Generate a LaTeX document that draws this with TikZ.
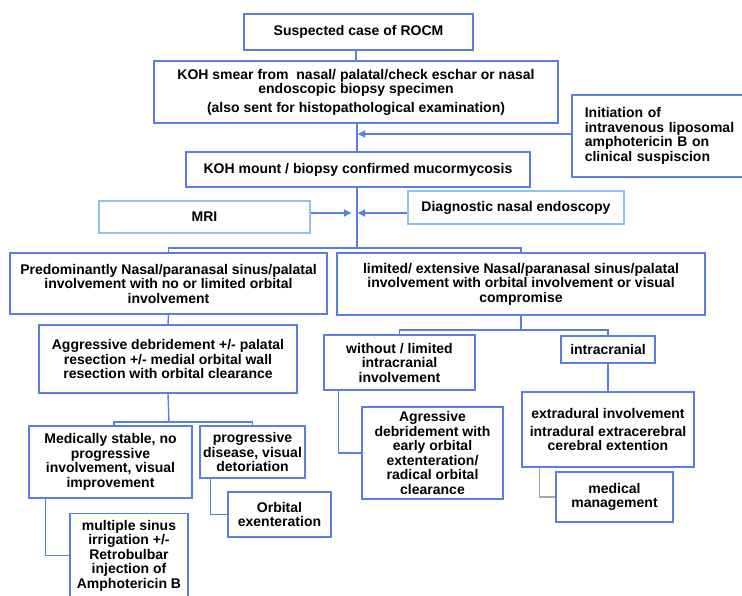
\documentclass[tikz,border=0pt]{standalone}
\usepackage{fontspec}
\setmainfont{Liberation Sans}
\usetikzlibrary{arrows.meta}
\definecolor{boxblue}{HTML}{5A7FE0}
\definecolor{lightblue}{HTML}{8EC2F0}
\definecolor{linegray}{HTML}{A8A8A8}

\begin{document}
\begin{tikzpicture}[
    x=1pt, y=-1pt,
    box/.style={rectangle, draw=boxblue, line width=1.6pt, fill=white, align=center, inner sep=0pt, font=\bfseries\fontsize{14}{14.5}\selectfont},
    softbox/.style={box, draw=lightblue},
    link/.style={draw=boxblue, line width=1.4pt},
    arrow/.style={link, -{Latex[length=8pt,width=8pt]}}
]
    \useasboundingbox (0,0) rectangle (742,595);

    % Nodes
    \node[box, minimum width=229, minimum height=36] (rocm) at (358.5,32) {Suspected case of ROCM};
    \node[box, minimum width=404, minimum height=62] (smear) at (356,92) {KOH smear from\ \ nasal/ palatal/check eschar or nasal\\ endoscopic biopsy specimen\\[4pt] (also sent for histopathological examination)};
    \node[box, anchor=west, align=left, inner xsep=13pt, text width=165pt, minimum height=82] (init) at (571,136) {Initiation of\\ intravenous liposomal\\ amphotericin B on\\ clinical suspiscion};
    \node[box, minimum width=344, minimum height=35] (mount) at (358,169.5) {KOH mount / biopsy confirmed mucormycosis};
    \node[softbox, minimum width=211, minimum height=32] (mri) at (204.5,217) {MRI};
    \node[softbox, minimum width=216, minimum height=33] (endo) at (516,207.5) {Diagnostic nasal endoscopy};

    \node[box, minimum width=317, minimum height=61] (pred) at (168.5,283.5) {Predominantly Nasal/paranasal sinus/palatal\\ involvement with no or limited orbital\\ involvement};
    \node[box, minimum width=368, minimum height=62] (ext) at (521,284) {limited/ extensive Nasal/paranasal sinus/palatal\\ involvement with orbital involvement or visual\\ compromise};

    \node[box, minimum width=258, minimum height=68] (aggr) at (168,359) {Aggressive debridement +/- palatal\\ resection +/- medial orbital wall\\ resection with orbital clearance};
    \node[box, minimum width=151, minimum height=55] (nolim) at (399.5,362.5) {without / limited\\ intracranial\\ involvement};
    \node[box, minimum width=94, minimum height=27] (intra) at (608,349.5) {intracranial};

    \node[box, minimum width=163, minimum height=72] (stable) at (110.5,462) {Medically stable, no\\ progressive\\ involvement, visual\\ improvement};
    \node[box, minimum width=105, minimum height=52] (prog) at (252.5,452) {progressive\\ disease, visual\\ detoriation};
    \node[box, minimum width=118, minimum height=84] (sinus) at (129,555.5) {multiple sinus\\ irrigation +/-\\ Retrobulbar\\ injection of\\ Amphotericin B};
    \node[box, minimum width=103, minimum height=45] (orbital) at (279.5,514.5) {Orbital\\ exenteration};

    \node[box, minimum width=141, minimum height=92] (aggr2) at (432.5,453) {Agressive\\ debridement with\\ early orbital\\ extenteration/\\ radical orbital\\ clearance};
    \node[box, minimum width=172, minimum height=75] (extra) at (608,429.5) {extradural involvement\\[3pt] intradural extracerebral\\ cerebral extention};
    \node[box, minimum width=117, minimum height=50] (medical) at (614.5,497) {medical\\ management};

    % Junctions
    \coordinate (drug) at (357,134);
    \coordinate (scan) at (357,213);
    \coordinate (split) at (357,248);
    \coordinate (right) at (521,330);
    \coordinate (left) at (169,422);

    % Arrows
    \draw[link] (rocm.south -| smear.north) -- (smear.north);
    \draw[link] (smear.south -| drug) -- (mount.north -| drug);
    \draw[arrow] (init.west |- drug) -- (drug);
    \draw[link] (mount.south -| split) -- (split);
    \draw[arrow] (mri.east |- scan) -- ([xshift=-5pt]scan);
    \draw[arrow] (endo.west |- scan) -- (scan);
    \draw[link] (pred.north) |- (split) -| (ext.north);

    \draw[link] (pred.south) -- (aggr.north);
    \draw[link] (ext.south) -- (right);
    \draw[link] (nolim.north) |- (right) -| (intra.north);
    \draw[link] (aggr.south) -- (left);
    \draw[link] ([xshift=3.5pt]stable.north) |- (left) -| (prog.north);

    \draw[link] ([xshift=17pt]stable.south west) |- (sinus.west);
    \draw[link] ([xshift=11pt]prog.south west) |- (orbital.west);
    \draw[link] ([xshift=15pt]nolim.south west) |- (aggr2.west);
    \draw[link] (intra.south) -- (extra.north);
    \draw[link, draw=linegray] ([xshift=18pt]extra.south west) |- (medical.west);
\end{tikzpicture}
\end{document}
